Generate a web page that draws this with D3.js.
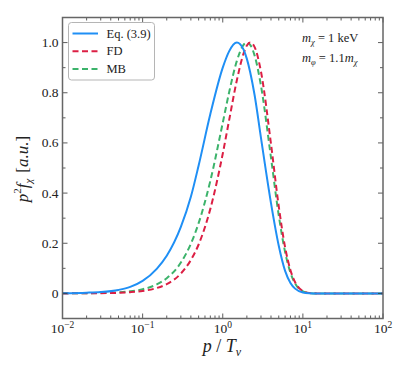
<!DOCTYPE html>
<html><head><meta charset="utf-8">
<script src="https://cdn.jsdelivr.net/npm/d3@7"></script>
<style>body{margin:0;background:#fff}svg{display:block}svg text{font-family:"Liberation Serif","Times New Roman",serif}</style>
</head><body>
<script>
const pGrid = [0.01,0.02,0.03,0.05,0.07,0.1,0.15,0.2,0.3,0.4,0.5,0.7,1,1.2,1.5,1.8,2,2.2,2.5,3,4,5,6,7,8,10,12,15,20,30,50,100];
const eqValues = [0.0008,0.0028,0.0055,0.014,0.026,0.050,0.098,0.150,0.265,0.385,0.51,0.715,0.90,0.965,1.0,0.975,0.935,0.882,0.79,0.62,0.36,0.19,0.09,0.042,0.019,0.004,0.001,0.0001,0,0,0,0];
const fdValues = [1.0e-4,4.1e-4,9.2e-4,0.0025,0.0049,0.0098,0.0216,0.0373,0.0793,0.133,0.195,0.337,0.557,0.690,0.850,0.952,0.988,1.0,0.982,0.884,0.596,0.347,0.184,0.0925,0.0445,0.0094,0.0018,0.00014,0,0,0,0];
const mbValues = [1.8e-4,7.2e-4,0.0016,0.0044,0.0084,0.0167,0.0358,0.0605,0.123,0.198,0.280,0.449,0.680,0.801,0.927,0.989,1.0,0.991,0.948,0.828,0.541,0.311,0.165,0.0825,0.0397,0.0084,0.0016,0.00013,0,0,0,0];
const seriesNames = ["Eq. (3.9)","FD","MB"];
const seriesColors = ["#1f8ff5","#dc1f44","#3cb36b"];
const yTicks = [0,0.2,0.4,0.6,0.8,1.0];
const yTickLabels = ["0","0.2","0.4","0.6","0.8","1.0"];
const xTicks = [0.01,0.1,1,10,100];
const xTickExps = ["−2","−1","0","1","2"];

const W=411,H=377;
const L=62.5,R=383,T=17.5,B=318.5;
const svg=d3.select("body").append("svg").attr("width",W).attr("height",H);
const x=d3.scaleLog().domain([0.01,100]).range([L,R]);
const y=d3.scaleLinear().domain([-0.1,1.1]).range([B,T]);

const g=svg.append("g");
svg.append("clipPath").attr("id","c").append("rect").attr("x",L).attr("y",T).attr("width",R-L).attr("height",B-T);

const series=[eqValues,fdValues,mbValues];
const line=d3.line().x((d,i)=>x(pGrid[i])).y(d=>y(d)).curve(d3.curveMonotoneX);
const dashes=[null,"6,3.5","6,3.5"];
[2,1,0].forEach(k=>{
  g.append("path").attr("d",line(series[k])).attr("fill","none")
   .attr("stroke",seriesColors[k]).attr("stroke-width",2)
   .attr("stroke-dasharray",dashes[k]).attr("clip-path","url(#c)");
});

// ticks
const tk=g.append("g").attr("stroke","#333").attr("stroke-width",0.8);
const majLen=5, minLen=3;
yTicks.forEach(v=>{
  tk.append("line").attr("x1",L).attr("x2",L+majLen).attr("y1",y(v)).attr("y2",y(v));
  tk.append("line").attr("x1",R).attr("x2",R-majLen).attr("y1",y(v)).attr("y2",y(v));
});
d3.range(-1,12).map(i=>i/10).forEach(v=>{
  if(yTicks.some(t=>Math.abs(t-v)<1e-9)) return;
  tk.append("line").attr("x1",L).attr("x2",L+minLen).attr("y1",y(v)).attr("y2",y(v));
  tk.append("line").attr("x1",R).attr("x2",R-minLen).attr("y1",y(v)).attr("y2",y(v));
});
xTicks.forEach(v=>{
  tk.append("line").attr("x1",x(v)).attr("x2",x(v)).attr("y1",B).attr("y2",B-majLen);
  tk.append("line").attr("x1",x(v)).attr("x2",x(v)).attr("y1",T).attr("y2",T+majLen);
});
[0.01,0.1,1,10].forEach(d=>{
  for(let m=2;m<=9;m++){
    const v=d*m;
    tk.append("line").attr("x1",x(v)).attr("x2",x(v)).attr("y1",B).attr("y2",B-minLen);
    tk.append("line").attr("x1",x(v)).attr("x2",x(v)).attr("y1",T).attr("y2",T+minLen);
  }
});

// frame
g.append("rect").attr("x",L).attr("y",T).attr("width",R-L).attr("height",B-T)
 .attr("fill","none").attr("stroke","#666").attr("stroke-width",1.5);

// tick labels
yTicks.forEach((v,i)=>{
  g.append("text").attr("x",L-4).attr("y",y(v)+4.5).attr("text-anchor","end")
   .attr("font-size",13.5).attr("fill","#222").text(yTickLabels[i]);
});
xTicks.forEach((v,i)=>{
  const t=g.append("text").attr("x",x(v)).attr("y",333).attr("text-anchor","middle")
   .attr("font-size",13.5).attr("fill","#222");
  t.append("tspan").text("10");
  t.append("tspan").attr("dy",-5).attr("font-size",9.5).text(xTickExps[i]);
});

// axis labels
const xl=g.append("text").attr("x",222).attr("y",352).attr("text-anchor","middle")
  .attr("font-size",18).attr("fill","#222");
xl.append("tspan").attr("font-style","italic").text("p");
xl.append("tspan").text(" / ");
xl.append("tspan").attr("font-style","italic").text("T");
xl.append("tspan").attr("font-style","italic").attr("font-size",12).attr("dy",4).text("ν");

const yl=g.append("text").attr("transform","translate(28,169) rotate(-90)").attr("text-anchor","middle")
  .attr("font-size",17).attr("fill","#222");
yl.append("tspan").attr("font-style","italic").text("p");
yl.append("tspan").attr("font-size",11).attr("dy",-7).text("2");
yl.append("tspan").attr("font-style","italic").attr("dy",7).text("f");
yl.append("tspan").attr("font-style","italic").attr("font-size",11).attr("dy",4).text("χ");
yl.append("tspan").attr("dy",-4).attr("dx",6).text("[");
yl.append("tspan").attr("font-style","italic").text("a.u.");
yl.append("tspan").text("]");

// legend
const lg=g.append("g");
lg.append("rect").attr("x",68.5).attr("y",22.5).attr("width",86).attr("height",57.5).attr("rx",3)
  .attr("fill","#fff").attr("fill-opacity",0.85).attr("stroke","#b5b5b5").attr("stroke-width",1);
seriesNames.forEach((n,i)=>{
  const yy=33.5+i*17.7;
  lg.append("line").attr("x1",72.5).attr("x2",98).attr("y1",yy).attr("y2",yy)
    .attr("stroke",seriesColors[i]).attr("stroke-width",2).attr("stroke-dasharray",dashes[i]);
  lg.append("text").attr("x",106.5).attr("y",yy+4.2).attr("font-size",12.5)
    .attr("fill","#222").text(n);
});

// annotations
const a1=g.append("text").attr("x",302).attr("y",42).attr("font-size",12.5).attr("fill","#222");
a1.append("tspan").attr("font-style","italic").text("m");
a1.append("tspan").attr("font-style","italic").attr("font-size",8.5).attr("dy",3).text("χ");
a1.append("tspan").attr("dy",-3).text(" = 1 keV");
const a2=g.append("text").attr("x",302).attr("y",62).attr("font-size",12.5).attr("fill","#222");
a2.append("tspan").attr("font-style","italic").text("m");
a2.append("tspan").attr("font-style","italic").attr("font-size",8.5).attr("dy",3).text("φ");
a2.append("tspan").attr("dy",-3).text(" = 1.1");
a2.append("tspan").attr("font-style","italic").text("m");
a2.append("tspan").attr("font-style","italic").attr("font-size",8.5).attr("dy",3).text("χ");
</script>
</body></html>
